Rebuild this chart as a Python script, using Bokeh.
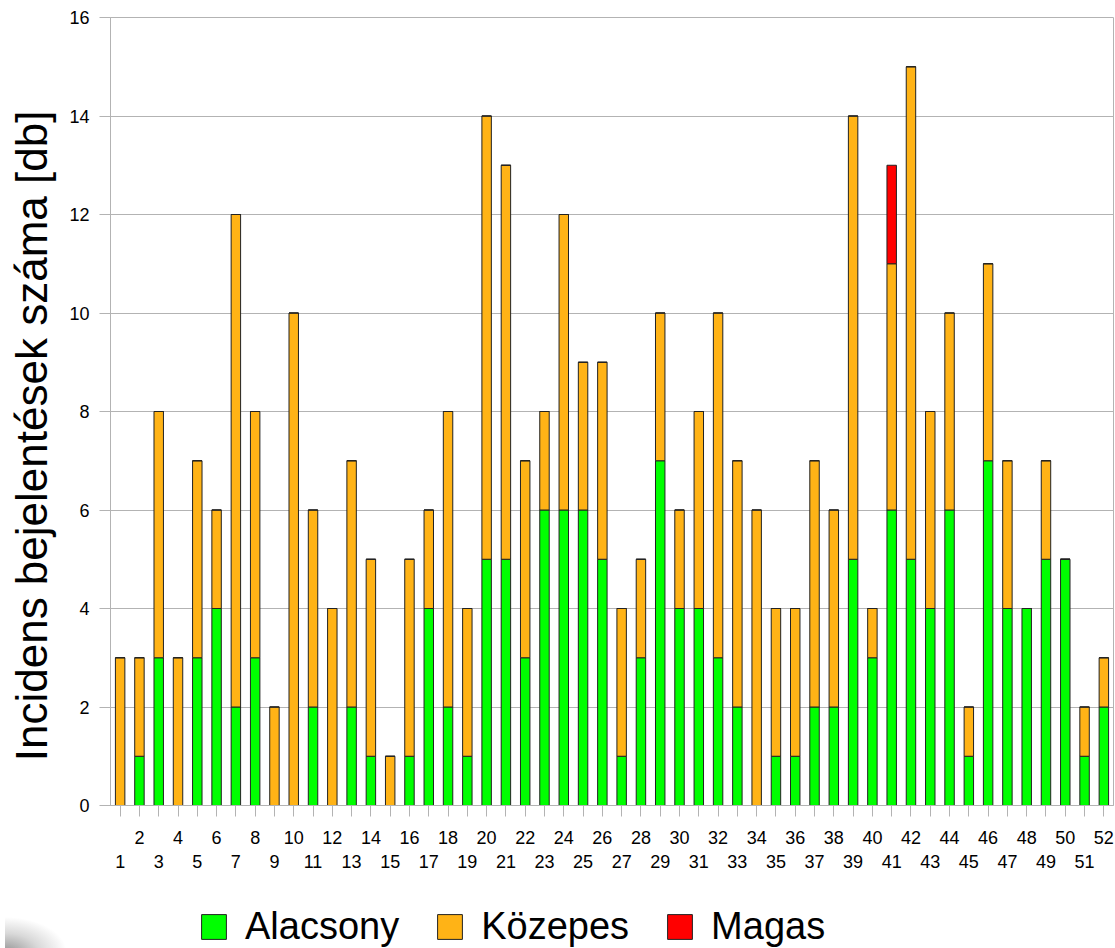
from bokeh.plotting import figure
from bokeh.layouts import column, row
from bokeh.models import (Range1d, LinearAxis, FixedTicker, Legend, LegendItem, Div)
from bokeh.embed import file_html
from bokeh.resources import INLINE

# ---- data ----
weeks = list(range(1, 53))
alacsony = [0, 1, 3, 0, 3, 4, 2, 3, 0, 0, 2, 0, 2, 1, 0, 1, 4, 2, 1, 5,
            5, 3, 6, 6, 6, 5, 1, 3, 7, 4, 4, 3, 2, 0, 1, 1, 2, 2, 5, 3,
            6, 5, 4, 6, 1, 7, 4, 4, 5, 5, 1, 2]
kozepes = [3, 2, 5, 3, 4, 2, 10, 5, 2, 10, 4, 4, 5, 4, 1, 4, 2, 6, 3, 9,
           8, 4, 2, 6, 3, 4, 3, 2, 3, 2, 4, 7, 5, 6, 3, 3, 5, 4, 9, 1,
           5, 10, 4, 4, 1, 4, 3, 0, 2, 0, 1, 1]
magas = [0] * 40 + [2] + [0] * 11
y_ticks = [0, 2, 4, 6, 8, 10, 12, 14, 16]
series_names = ["Alacsony", "Közepes", "Magas"]
series_colors = ["#00ff00", "#ffb316", "#ff0000"]

FONT = "Liberation Sans"
GRID = "#b3b3b3"
OUTLINE = "#222222"

p = figure(width=1115, height=895, output_backend="svg", toolbar_location=None,
           x_range=Range1d(0.5, 52.5), y_range=Range1d(0, 16),
           x_axis_location=None, y_axis_location=None,
           min_border_left=110, min_border_right=2, min_border_top=17,
           min_border_bottom=90)
p.background_fill_color = "white"
p.border_fill_color = "white"
p.outline_line_color = GRID
p.outline_line_width = 1
p.xgrid.visible = False
p.ygrid.ticker = FixedTicker(ticks=y_ticks)
p.ygrid.grid_line_color = GRID
p.ygrid.grid_line_width = 1

# y axis
yax = LinearAxis(ticker=FixedTicker(ticks=y_ticks))
yax.axis_line_color = GRID
yax.major_tick_line_color = GRID
yax.major_tick_out = 11
yax.major_tick_in = 0
yax.minor_tick_line_color = None
yax.major_label_text_font = FONT
yax.major_label_text_font_size = "18px"
yax.major_label_text_color = "black"
yax.major_label_standoff = 10
yax.axis_label = "Incidens bejelentések száma [db]" + "\u00a0" * 4
yax.axis_label_text_font = FONT
yax.axis_label_text_font_size = "44px"
yax.axis_label_text_font_style = "normal"
yax.axis_label_text_color = "black"
yax.axis_label_standoff = 10
p.add_layout(yax, "left")

# x axis: even labels on first row, odd on second row
odd_weeks = [w for w in weeks if w % 2 == 1]
xax1 = LinearAxis(ticker=FixedTicker(ticks=weeks))
xax1.major_label_overrides = {w: ("" if w % 2 else str(w)) for w in weeks}
xax1.axis_line_color = GRID
xax1.major_tick_line_color = GRID
xax1.major_tick_out = 11
xax1.major_tick_in = 0
xax1.minor_tick_line_color = None
xax1.major_label_text_font = FONT
xax1.major_label_text_font_size = "18px"
xax1.major_label_text_color = "black"
xax1.major_label_standoff = 14
p.add_layout(xax1, "below")

xax2 = LinearAxis(ticker=FixedTicker(ticks=odd_weeks))
xax2.axis_line_color = None
xax2.major_tick_line_color = None
xax2.major_tick_out = 0
xax2.major_tick_in = 0
xax2.minor_tick_line_color = None
xax2.major_label_text_font = FONT
xax2.major_label_text_font_size = "18px"
xax2.major_label_text_color = "black"
xax2.major_label_standoff = 8
p.add_layout(xax2, "below")

src = dict(x=weeks, Alacsony=alacsony, Közepes=kozepes, Magas=magas)
p.vbar_stack(series_names, x="x", width=0.49, source=src,
             fill_color=series_colors, line_color=OUTLINE, line_width=1)

# ---- legend strip below the chart ----
lg = figure(width=1005, height=53, output_backend="svg", toolbar_location=None,
            x_range=Range1d(0, 1005), y_range=Range1d(0, 53),
            x_axis_location=None, y_axis_location=None,
            min_border_left=0, min_border_right=0, min_border_top=0,
            min_border_bottom=0)
lg.outline_line_color = None
lg.grid.visible = False
lg.background_fill_color = "white"
lg.border_fill_color = "white"

items = []
for name, color in zip(series_names, series_colors):
    # legend proxies, kept far outside the visible range
    r = lg.vbar(x=[-100000], top=[0], width=1, fill_color=color, line_color=OUTLINE)
    items.append(LegendItem(label=name, renderers=[r]))

legend = Legend(items=items, orientation="horizontal", location=(78, 0))
legend.glyph_width = 31
legend.glyph_height = 31
legend.label_standoff = 16
legend.spacing = 35
legend.padding = 0
legend.margin = 0
legend.border_line_color = None
legend.background_fill_alpha = 0
legend.label_text_font = FONT
legend.label_text_font_size = "38px"
legend.label_text_color = "black"
lg.add_layout(legend, "center")

# faint grey shadow in the lower-left corner of the page
shadow = Div(width=110, height=53, text="",
             styles={"background": "radial-gradient(ellipse 62px 36px at 0% 100%, "
                                   "rgba(110,110,110,0.75) 0%, rgba(170,170,170,0.45) 55%, "
                                   "rgba(255,255,255,0) 100%)"})

open("out.html", "w").write(file_html(column(p, row(shadow, lg, spacing=0), spacing=0), INLINE))
